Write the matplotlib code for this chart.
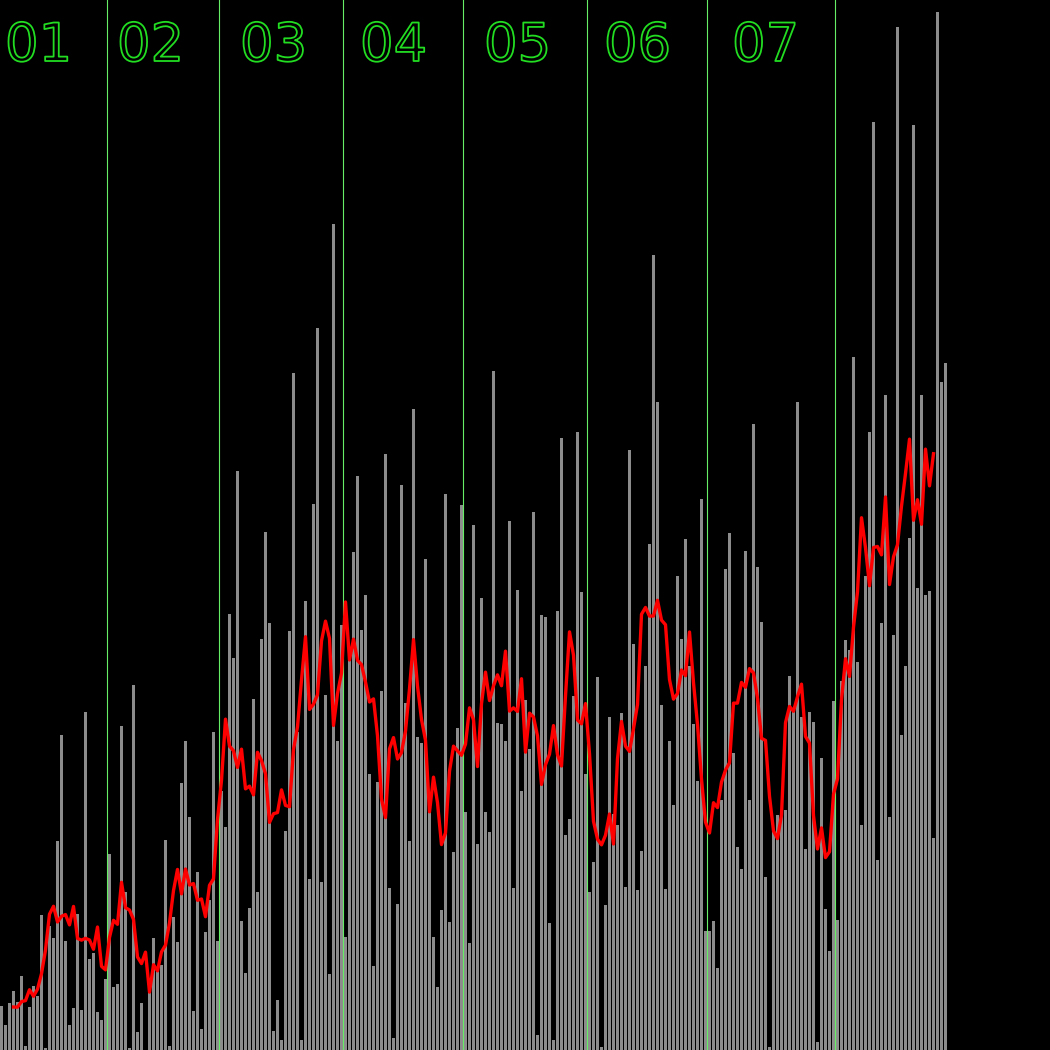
import matplotlib
matplotlib.use('Agg')
import matplotlib.pyplot as plt
import matplotlib.patheffects as pe
import numpy as np
import pandas as pd

# daily values, one list per month
jan = [44, 25, 47, 59, 48, 74, 4, 43, 64, 54,
       135, 2, 124, 112, 209, 315, 109, 25, 42, 136,
       40, 338, 91, 97, 38, 30, 71]
feb = [196, 63, 66, 324, 158, 2, 365, 18, 47, 0,
       61, 112, 82, 85, 210, 4, 133, 108, 267, 309,
       233, 39, 178, 21, 118, 150, 318, 109]
mar = [259, 223, 436, 392, 579, 129, 77, 142, 351, 158,
       411, 518, 427, 19, 50, 10, 219, 419, 677, 318,
       10, 449, 171, 546, 722, 168, 355, 76, 826, 309, 425]
apr = [113, 391, 498, 574, 420, 455, 276, 84, 268, 359,
       596, 162, 12, 146, 565, 347, 209, 641, 313, 307,
       491, 240, 113, 63, 140, 556, 128, 198, 322, 545]
may = [238, 107, 525, 206, 452, 238, 218, 679, 327, 326,
       309, 529, 162, 460, 259, 350, 301, 538, 15, 435,
       433, 127, 10, 439, 612, 215, 231, 354, 618, 458, 276]
jun = [158, 188, 373, 3, 145, 333, 236, 225, 337, 163,
       600, 406, 160, 199, 384, 506, 795, 648, 345, 161,
       309, 245, 474, 411, 511, 384, 326, 269, 551, 119]
jul = [119, 129, 82, 250, 481, 517, 297, 203, 181, 499,
       250, 626, 483, 428, 173, 3, 219, 235, 236, 240,
       374, 339, 648, 333, 201, 338, 328, 8, 292, 141,
       99, 349]
aug = [130, 369, 410, 400, 693, 388, 225, 474, 618, 928,
       190, 427, 655, 233, 415, 1023, 315, 384, 512, 925,
       462, 655, 455, 459, 212, 1038, 668, 687]

months = [jan, feb, mar, apr, may, jun, jul, aug]
month_labels = ['01', '02', '03', '04', '05', '06', '07']

values = pd.Series(np.concatenate(months).astype(float))
avg = values.rolling(7, center=True).mean()

# where each month starts (index of its first day)
starts = np.cumsum([0] + [len(m) for m in months])[:-1]

text_green = '#22dd22'
line_green = '#66ee66'

fig = plt.figure(figsize=(10.5, 10.5), dpi=100, facecolor='black')
ax = fig.add_axes([0, 0, 1, 1])
ax.set_facecolor('black')

idx = np.arange(len(values))
ax.bar(idx, values, width=0.75, align='edge', color='#8c8c8c',
       linewidth=0, zorder=2)
ax.plot(idx + 0.375, avg, color='#ff0000', lw=2.4, zorder=4)

# month separators sit in the gap just before the first day
for s in starts[1:]:
    ax.axvline(s - 0.2, color=line_green, lw=0.8, zorder=3)

# month labels, left edges in day units
label_x = [1.25, 29.25, 60, 90, 121, 151, 183]
for lab, x in zip(month_labels, label_x):
    ax.text(x, 989, lab, fontsize=38, color='black', ha='left',
            va='baseline', family='DejaVu Sans', zorder=5,
            path_effects=[pe.Stroke(linewidth=1.3, foreground=text_green)])

ax.set_xlim(0, 262.5)
ax.set_ylim(0, 1050)
ax.axis('off')

fig.savefig('out.png', dpi=100, facecolor='black')
